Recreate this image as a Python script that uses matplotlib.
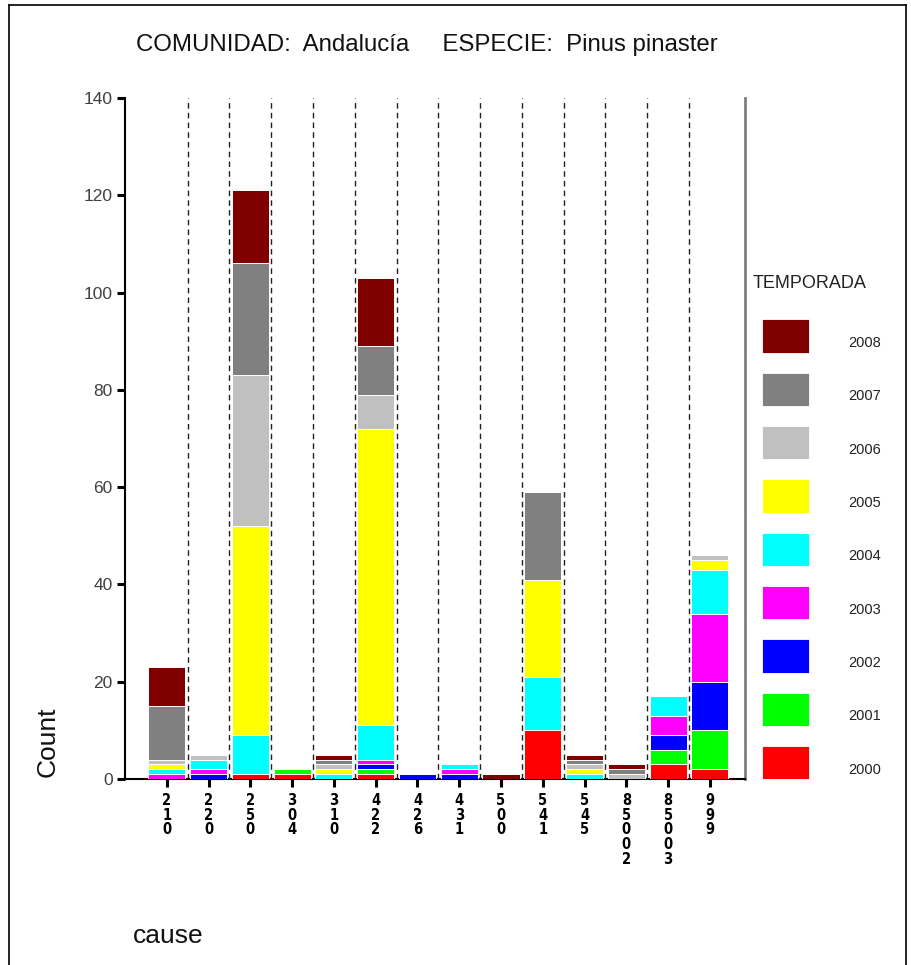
import matplotlib
matplotlib.use("Agg")
import matplotlib.pyplot as plt
from matplotlib.lines import Line2D
from matplotlib.patches import Rectangle
import numpy as np

plt.rcParams['font.family'] = ['Liberation Sans', 'DejaVu Sans']

causes = ["210", "220", "250", "304", "310", "422", "426", "431", "500",
          "541", "545", "85002", "85003", "999"]
years = ["2000", "2001", "2002", "2003", "2004", "2005", "2006", "2007", "2008"]
colors = ["#FF0000", "#00FF00", "#0000FF", "#FF00FF", "#00FFFF",
          "#FFFF00", "#C0C0C0", "#808080", "#800000"]

c2000 = [0, 0, 1, 1, 0, 1, 0, 0, 0, 10, 0, 0, 3, 2]
c2001 = [0, 0, 0, 1, 0, 1, 0, 0, 0, 0, 0, 0, 3, 8]
c2002 = [0, 1, 0, 0, 0, 1, 1, 1, 0, 0, 0, 0, 3, 10]
c2003 = [1, 1, 0, 0, 0, 1, 0, 1, 0, 0, 0, 0, 4, 14]
c2004 = [1, 2, 8, 0, 1, 7, 0, 1, 0, 11, 1, 0, 4, 9]
c2005 = [1, 0, 43, 0, 1, 61, 0, 0, 0, 20, 1, 0, 0, 2]
c2006 = [1, 1, 31, 0, 1, 7, 0, 0, 0, 0, 1, 1, 0, 1]
c2007 = [11, 0, 23, 0, 1, 10, 0, 0, 0, 18, 1, 1, 0, 0]
c2008 = [8, 0, 15, 0, 1, 14, 0, 0, 1, 0, 1, 1, 0, 0]
series = [c2000, c2001, c2002, c2003, c2004, c2005, c2006, c2007, c2008]

W, H = 911, 965
fig = plt.figure(figsize=(W / 100, H / 100), dpi=100)
ax = fig.add_axes([125 / W, 1 - 779 / H, (745 - 125) / W, (779 - 98) / H])

x = np.arange(len(causes))
bottom = np.zeros(len(causes))
for vals, col, yr in zip(series, colors, years):
    v = np.array(vals, dtype=float)
    ax.bar(x, v, bottom=bottom, width=0.89, color=col, edgecolor='white',
           linewidth=0.7, label=yr, zorder=3)
    bottom += v

for i in range(len(causes) - 1):
    ax.axvline(i + 0.5, color='#202020', linestyle=(0, (4, 3)), linewidth=1.0, zorder=1)

ax.set_xlim(-1.0, 13.84)
ax.set_ylim(0, 140)
ax.set_yticks(np.arange(0, 141, 20))
ax.tick_params(axis='y', direction='out', length=6, width=2.2, colors='black',
               labelcolor='#404040', labelsize=12.5, pad=3)
ax.set_xticks(x)
ax.set_xticklabels(["\n".join(c) for c in causes],
                   family='DejaVu Sans', stretch='condensed',
                   fontweight='bold', fontsize=10.5, linespacing=0.98)
ax.tick_params(axis='x', direction='out', length=6, width=2.2, colors='black', pad=4)

ax.spines['top'].set_visible(False)
ax.spines['left'].set_linewidth(1.5)
ax.spines['bottom'].set_linewidth(1.5)
ax.spines['right'].set_color('#808080')
ax.spines['right'].set_linewidth(2)

fig.text(427 / W, 1 - 45 / H,
         "COMUNIDAD:  Andalucía     ESPECIE:  Pinus pinaster",
         ha='center', va='center', fontsize=17.3, color='#111111')
fig.text(48 / W, 1 - 742 / H, "Count", rotation=90, ha='center', va='center',
         fontsize=19, color='#111111')
fig.text(133 / W, 1 - 936 / H, "cause", ha='left', va='center',
         fontsize=19, color='#111111')

# legend
fig.text(753 / W, 1 - 284 / H, "TEMPORADA", ha='left', va='center',
         fontsize=13, color='#222222')
for k, (yr, col) in enumerate(zip(years[::-1], colors[::-1])):
    top = 319.3 + k * 53.35
    fig.add_artist(Rectangle((762 / W, 1 - (top + 33.3) / H), 47 / W, 33.3 / H,
                             facecolor=col, edgecolor='white', linewidth=0.6,
                             transform=fig.transFigure))
    fig.text(848 / W, 1 - (top + 23.5) / H, yr, ha='left', va='center',
             fontsize=10.5, color='#222222')

# figure frame
for (x0, y0, x1, y1) in [(9, 5, 9, H), (9, 5, 906, 5), (906, 5, 906, H)]:
    fig.add_artist(Line2D([x0 / W, x1 / W], [1 - y0 / H, 1 - y1 / H],
                          color='black', linewidth=1.2, transform=fig.transFigure))

fig.savefig("out.png", dpi=100)
